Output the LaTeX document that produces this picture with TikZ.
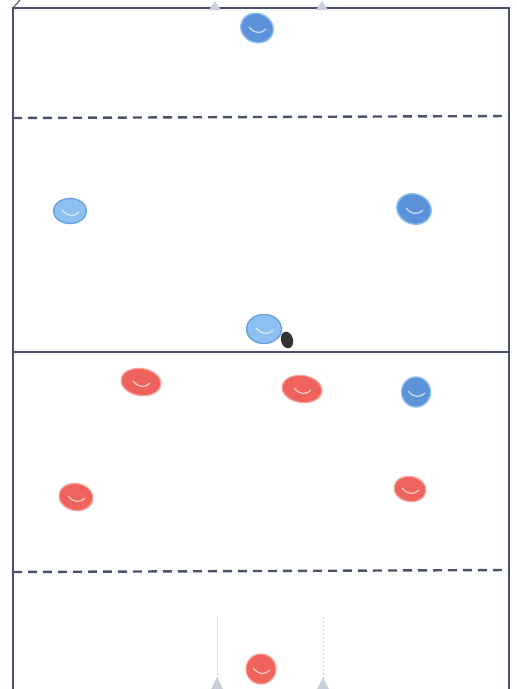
\documentclass[tikz,border=0pt]{standalone}
\definecolor{frame}{HTML}{4A5468}
\definecolor{bluelt}{HTML}{8CC0F0}
\definecolor{bluedk}{HTML}{5C92DA}
\definecolor{redp}{HTML}{F0625C}
\definecolor{redlt}{HTML}{F8A09A}
\definecolor{cone}{HTML}{C8CEDC}
\tikzset{
  x=1pt, y=-1pt,
  field/.style={draw=frame, line width=2.4pt},
  halfway/.style={draw=frame, line width=2.4pt, dash pattern=on 9pt off 6pt},
  blueplayer/.style={ellipse, fill=bluelt, draw=bluedk!70!bluelt, line width=1.4pt, inner sep=0pt},
  darkblueplayer/.style={ellipse, fill=bluedk, draw=bluelt, line width=1.4pt, inner sep=0pt},
  redplayer/.style={ellipse, fill=redp, draw=redlt, line width=1.2pt, inner sep=0pt},
  ballst/.style={ellipse, fill=black!80, inner sep=0pt, minimum width=12pt, minimum height=17pt, rotate=15},
  conest/.style={fill=cone, draw=none},
  goalline/.style={draw=cone, line width=1pt, dash pattern=on 2pt off 2pt},
  scribble/.style={draw=white, line width=1.2pt, opacity=0.7}
}
\usetikzlibrary{shapes.geometric}
\begin{document}
\begin{tikzpicture}
\useasboundingbox (0,0) rectangle (517,689);
\fill[white] (0,0) rectangle (517,689);
% field
\draw[field] (13,700) -- (13,8) -- (509,8) -- (509,700);
\draw[frame, line width=1pt] (13,8) -- (20,0);
\draw[halfway] (13,118) -- (509,116);
\draw[field] (13,352) -- (509,352);
\draw[halfway] (13,572) -- (509,570);
% cones top
\fill[conest] (209,10) -- (215,1) -- (221,10) -- cycle;
\fill[conest] (316,10) -- (322,1) -- (328,10) -- cycle;
% goal bottom
\coordinate (gl) at (217,617);
\coordinate (gr) at (323,617);
\coordinate (gl2) at (217,680);
\coordinate (gr2) at (323,680);
\draw[goalline] (gl) -- (gl2);
\draw[goalline] (gr) -- (gr2);
\fill[conest] (211,689) -- (217,677) -- (223,689) -- cycle;
\fill[conest] (317,689) -- (323,677) -- (329,689) -- cycle;
% blue players
\node[darkblueplayer, minimum width=33pt, minimum height=29pt, rotate=-20] (b1) at (257,28) {};
\node[blueplayer, minimum width=33pt, minimum height=25pt] (b2) at (70,211) {};
\node[darkblueplayer, minimum width=35pt, minimum height=30pt, rotate=-20] (b3) at (414,209) {};
\node[blueplayer, minimum width=35pt, minimum height=29pt] (b4) at (264,329) {};
\node[darkblueplayer, minimum width=29pt, minimum height=30pt] (b5) at (416,392) {};
\node[ballst] (ball) at (287,340) {};
% red players
\node[redplayer, minimum width=40pt, minimum height=27pt, rotate=-8] (r1) at (141,382) {};
\node[redplayer, minimum width=40pt, minimum height=27pt, rotate=-8] (r2) at (302,389) {};
\node[redplayer, minimum width=34pt, minimum height=27pt, rotate=-10] (r3) at (76,497) {};
\node[redplayer, minimum width=32pt, minimum height=25pt, rotate=-10] (r4) at (410,489) {};
\node[redplayer, minimum width=30pt, minimum height=30pt] (r5) at (261,669) {};
% scribble highlights
\foreach \n in {b1,b2,b3,b4,b5,r1,r2,r3,r4,r5}{
  \draw[scribble] ([shift={(-8,-1)}]\n.center) .. controls ([shift={(-2,6)}]\n.center) and ([shift={(4,6)}]\n.center) .. ([shift={(9,1)}]\n.center);
}
\end{tikzpicture}
\end{document}
